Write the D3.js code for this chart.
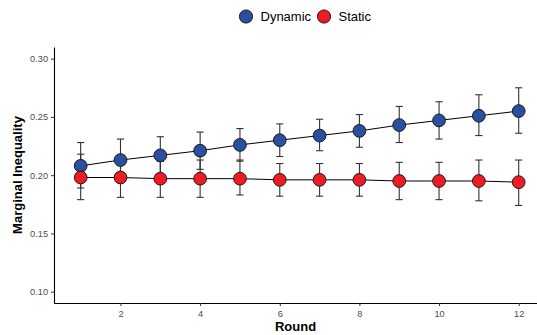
<!DOCTYPE html>
<html>
<head>
<meta charset="utf-8">
<script src="https://cdn.jsdelivr.net/npm/d3@7"></script>
<style>
  body { margin: 0; background: #fff; }
  svg { font-family: "Liberation Sans", Arial, sans-serif; }
</style>
</head>
<body>
<svg id="chart" width="537" height="335"></svg>
<script>
// values
const rounds = [1, 2, 3, 4, 5, 6, 7, 8, 9, 10, 11, 12];
const dynamicMean = [0.208, 0.213, 0.217, 0.221, 0.226, 0.230, 0.234, 0.238, 0.243, 0.247, 0.251, 0.255];
const dynamicLow  = [0.189, 0.196, 0.201, 0.205, 0.212, 0.216, 0.221, 0.224, 0.228, 0.231, 0.234, 0.236];
const dynamicHigh = [0.228, 0.231, 0.233, 0.237, 0.240, 0.244, 0.248, 0.252, 0.259, 0.263, 0.269, 0.275];
const staticMean = [0.198, 0.198, 0.197, 0.197, 0.197, 0.196, 0.196, 0.196, 0.195, 0.195, 0.195, 0.194];
const staticLow  = [0.179, 0.181, 0.181, 0.181, 0.183, 0.182, 0.182, 0.182, 0.179, 0.179, 0.178, 0.174];
const staticHigh = [0.218, 0.216, 0.212, 0.213, 0.213, 0.210, 0.210, 0.210, 0.211, 0.211, 0.213, 0.213];
const xTicks = [2, 4, 6, 8, 10, 12];
const yTicks = [0.10, 0.15, 0.20, 0.25, 0.30];

const series = [
  { name: "Dynamic", color: "#2b4f9f", mean: dynamicMean, lo: dynamicLow, hi: dynamicHigh },
  { name: "Static", color: "#ed1c24", mean: staticMean, lo: staticLow, hi: staticHigh }
];

const svg = d3.select("#chart");
const plotLeft = 54, plotRight = 537, plotTop = 47, plotBottom = 303;

const x = d3.scaleLinear().domain([0.33, 12.46]).range([plotLeft, plotRight]);
const y = d3.scaleLinear().domain([0.0903, 0.31]).range([plotBottom, plotTop]);

// axes
const xAxis = svg.append("g")
  .attr("transform", `translate(0,${plotBottom})`)
  .call(d3.axisBottom(x).tickValues(xTicks).tickSize(3).tickPadding(4).tickSizeOuter(0));
const yAxis = svg.append("g")
  .attr("transform", `translate(${plotLeft},0)`)
  .call(d3.axisLeft(y).tickValues(yTicks).tickFormat(d3.format(".2f")).tickSize(3).tickPadding(3).tickSizeOuter(0));

[xAxis, yAxis].forEach(g => {
  g.select(".domain").attr("stroke", "#000").attr("stroke-width", 1.1);
  g.selectAll(".tick line").attr("stroke", "#333");
  g.selectAll(".tick text").attr("fill", "#4d4d4d").style("font-size", "9.2px");
});

svg.append("text")
  .attr("x", (plotLeft + plotRight) / 2).attr("y", 331)
  .attr("text-anchor", "middle")
  .style("font-size", "13px").style("font-weight", "bold")
  .text("Round");

svg.append("text")
  .attr("transform", `translate(22,${(plotTop + plotBottom) / 2}) rotate(-90)`)
  .attr("text-anchor", "middle")
  .style("font-size", "13px").style("font-weight", "bold")
  .text("Marginal Inequality");

const line = d3.line().x((d, i) => x(rounds[i])).y(d => y(d));

// error bars
series.forEach(s => {
  const g = svg.append("g").attr("stroke", "#333").attr("stroke-width", 1.1);
  rounds.forEach((r, i) => {
    g.append("line").attr("x1", x(r)).attr("x2", x(r)).attr("y1", y(s.lo[i])).attr("y2", y(s.hi[i]));
    g.append("line").attr("x1", x(r) - 3.6).attr("x2", x(r) + 3.6).attr("y1", y(s.lo[i])).attr("y2", y(s.lo[i]));
    g.append("line").attr("x1", x(r) - 3.6).attr("x2", x(r) + 3.6).attr("y1", y(s.hi[i])).attr("y2", y(s.hi[i]));
  });
});

// lines
series.forEach(s => {
  svg.append("path")
    .datum(s.mean)
    .attr("d", line)
    .attr("fill", "none")
    .attr("stroke", "#000")
    .attr("stroke-width", 1);
});

// points
series.forEach(s => {
  svg.append("g").selectAll("circle")
    .data(s.mean)
    .enter().append("circle")
    .attr("cx", (d, i) => x(rounds[i]))
    .attr("cy", d => y(d))
    .attr("r", 6.4)
    .attr("fill", s.color)
    .attr("stroke", "#111")
    .attr("stroke-width", 0.9);
});

// legend
const legendX = [246, 324];
series.forEach((s, i) => {
  svg.append("circle")
    .attr("cx", legendX[i]).attr("cy", 16.5).attr("r", 6.6)
    .attr("fill", s.color).attr("stroke", "#111").attr("stroke-width", 0.9);
  svg.append("text")
    .attr("x", legendX[i] + 14.5).attr("y", 21)
    .style("font-size", "13px")
    .text(s.name);
});
</script>
</body>
</html>
